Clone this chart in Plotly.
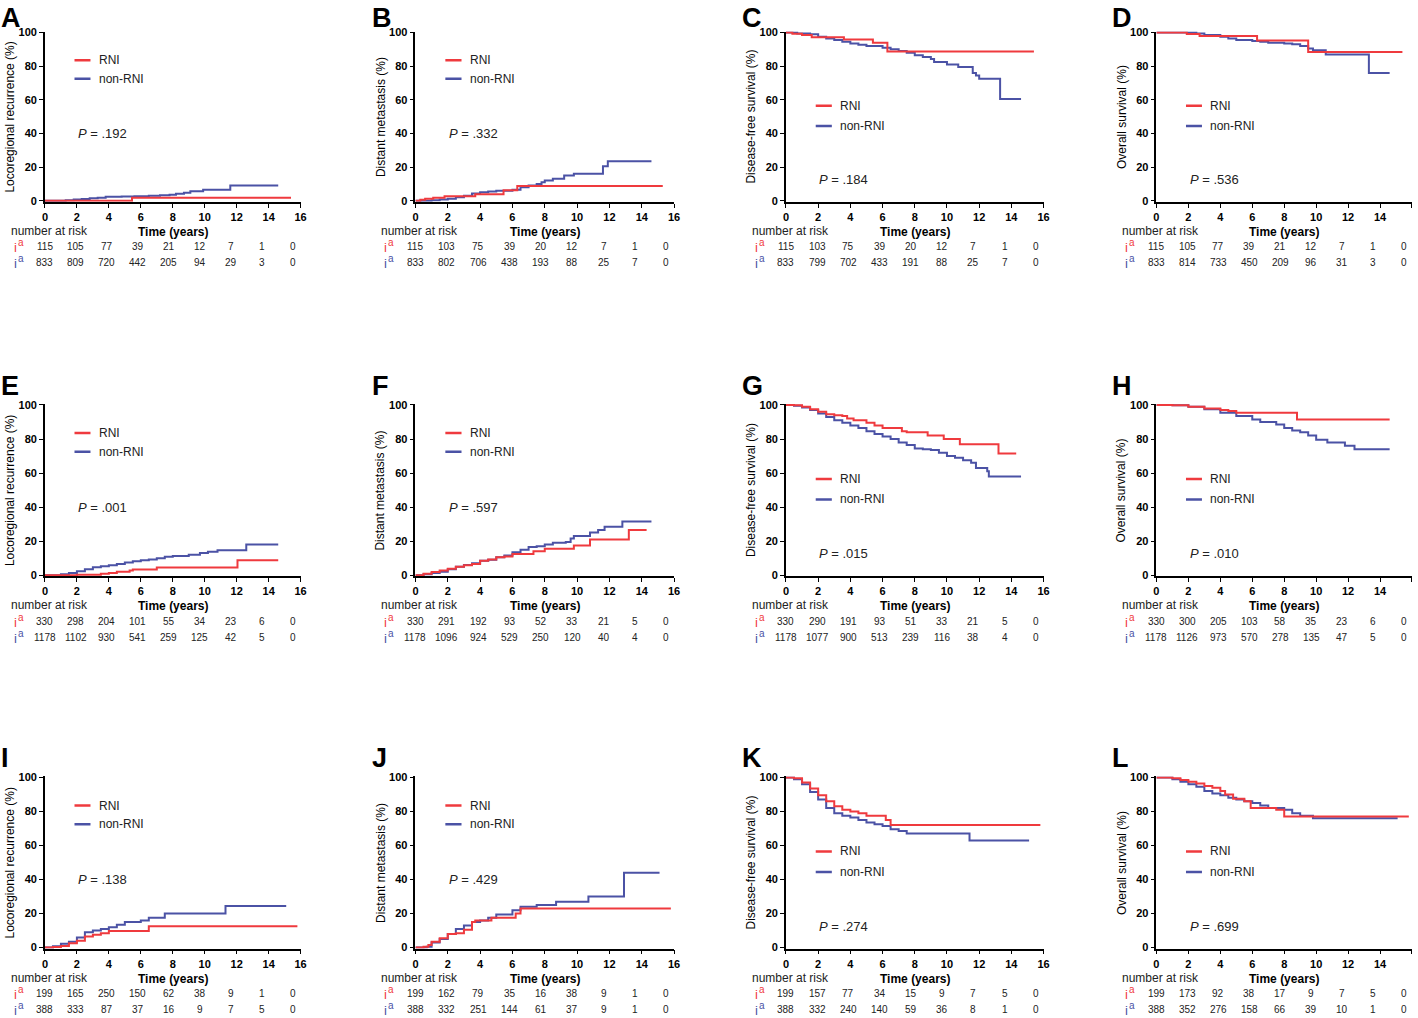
import plotly.graph_objects as go

W, H = 1418, 1018
RED = "#ef3a3e"
BLUE = "#4b52a5"
FONT = "Arial, Liberation Sans, sans-serif"

# ---- curves (time in years, percent) ----
a_rni_t = [0, 5.45, 15.4]
a_rni_v = [0, 1.8, 1.8]
a_non_t = [0, 1.3, 1.8, 2.3, 2.8, 3.3, 3.8, 4.8, 5.6, 6.5, 7.2, 7.8, 8.2, 8.7, 9.1, 9.9, 11.6, 14.6]
a_non_v = [0, 0.3, 0.7, 1.0, 1.4, 1.8, 2.3, 2.5, 2.7, 2.9, 3.2, 3.6, 4.2, 4.8, 5.6, 6.5, 9.0, 9.0]

b_rni_t = [0, 0.3, 0.6, 1.1, 1.8, 3.7, 5.45, 6.3, 15.3]
b_rni_v = [0, 0.6, 1.2, 1.8, 2.6, 3.8, 6.3, 8.8, 8.8]
b_non_t = [0, 1.0, 1.5, 2.0, 2.5, 3.0, 3.5, 4.0, 4.5, 5.0, 6.0, 6.5, 7.0, 7.5, 7.8, 8.0, 8.5, 9.2, 9.8, 11.6, 11.9, 14.6]
b_non_v = [0, 0.3, 0.7, 1.2, 2.0, 3.0, 4.3, 5.0, 5.5, 6.0, 6.5, 8.0, 9.0, 10.0, 11.0, 12.0, 13.0, 15.0, 16.0, 20.5, 23.5, 23.5]

c_rni_t = [0, 0.4, 1.0, 1.6, 3.6, 5.4, 6.3, 15.4]
c_rni_v = [100, 99.3, 98.5, 97.2, 95.8, 94.0, 88.7, 88.7]
c_non_t = [0, 0.7, 1.5, 2.0, 2.5, 3.0, 3.5, 4.0, 4.5, 5.0, 6.0, 6.5, 7.0, 7.5, 8.0, 8.5, 9.0, 9.2, 10.0, 10.7, 11.6, 11.8, 12.0, 13.3, 14.6]
c_non_v = [100, 99.5, 99.0, 97.5, 96.5, 95.5, 94.5, 93.5, 92.8, 92.0, 91.0, 90.0, 89.0, 88.0, 86.5, 85.5, 84.2, 82.5, 81.0, 79.5, 76.0, 74.5, 72.5, 60.5, 60.5]

d_rni_t = [0, 1.9, 2.7, 6.3, 9.5, 15.4]
d_rni_v = [100, 99.2, 98.0, 95.2, 88.5, 88.5]
d_non_t = [0, 2.5, 3.0, 4.0, 4.5, 5.0, 6.0, 6.5, 7.0, 8.0, 8.5, 9.0, 9.5, 9.8, 10.6, 13.3, 14.6]
d_non_v = [100, 99.5, 98.5, 97.5, 96.5, 95.5, 95.0, 94.5, 94.0, 93.5, 93.0, 92.0, 90.5, 89.5, 87.0, 76.0, 76.0]

e_rni_t = [0, 2.0, 3.5, 4.0, 4.5, 5.3, 5.5, 7.0, 12.05, 14.6]
e_rni_v = [0, 0.3, 0.8, 1.2, 2.0, 2.8, 3.3, 4.5, 8.7, 8.7]
e_non_t = [0, 1.0, 1.5, 2.0, 2.5, 3.0, 3.5, 4.0, 4.5, 5.0, 5.5, 6.0, 6.5, 7.0, 7.5, 8.0, 9.0, 9.7, 10.2, 10.8, 12.6, 14.6]
e_non_v = [0, 0.5, 1.2, 2.3, 3.5, 4.7, 5.2, 5.8, 6.5, 7.5, 8.2, 8.7, 9.2, 10.0, 10.8, 11.2, 12.0, 13.0, 13.7, 14.7, 18.0, 18.0]

f_rni_t = [0, 0.5, 1.0, 1.5, 2.0, 2.5, 3.0, 3.5, 4.0, 4.5, 5.0, 5.5, 6.0, 7.3, 8.0, 9.8, 10.8, 13.2, 14.3]
f_rni_v = [0, 0.8, 1.8, 2.8, 3.8, 5.0, 5.8, 6.5, 8.5, 9.2, 10.5, 11.0, 12.5, 14.0, 15.5, 17.5, 21.0, 26.5, 26.5]
f_non_t = [0, 0.5, 1.0, 1.5, 2.0, 2.5, 3.0, 3.5, 4.0, 4.5, 5.0, 5.5, 6.0, 6.5, 7.0, 7.5, 8.0, 8.5, 9.3, 9.6, 9.8, 10.8, 11.3, 11.7, 12.8, 14.6]
f_non_v = [0, 0.5, 1.2, 2.0, 3.5, 5.0, 6.0, 7.0, 8.5, 9.0, 10.5, 11.5, 13.5, 15.0, 16.5, 17.0, 18.0, 19.0, 19.5, 21.5, 23.0, 25.0, 26.5, 28.5, 31.5, 31.5]

g_rni_t = [0, 0.5, 1.0, 1.5, 2.0, 2.5, 3.0, 3.5, 3.8, 4.2, 5.0, 5.5, 6.0, 7.2, 7.5, 8.8, 9.8, 10.8, 13.2, 14.3]
g_rni_v = [100, 99.8, 99.0, 97.5, 96.0, 94.5, 94.0, 93.5, 92.0, 91.0, 89.5, 88.0, 86.5, 84.5, 84.0, 82.0, 80.0, 77.0, 71.5, 71.5]
g_non_t = [0, 0.5, 1.0, 1.5, 2.0, 2.5, 3.0, 3.5, 4.0, 4.5, 5.0, 5.5, 6.0, 6.5, 7.0, 7.5, 8.0, 8.5, 9.0, 9.5, 10.0, 10.5, 11.0, 11.5, 11.8, 12.5, 12.6, 14.6]
g_non_v = [100, 99.5, 98.5, 97.0, 95.0, 93.0, 91.0, 89.5, 88.0, 86.5, 84.5, 83.0, 81.5, 80.0, 78.0, 76.5, 74.5, 74.0, 73.5, 72.0, 70.0, 69.0, 67.5, 66.0, 63.0, 61.0, 58.0, 58.0]

h_rni_t = [0, 1.0, 2.0, 3.0, 4.0, 4.5, 5.0, 8.8, 14.6]
h_rni_v = [100, 99.8, 99.0, 98.0, 97.0, 96.5, 95.5, 91.5, 91.5]
h_non_t = [0, 1.0, 2.0, 3.0, 4.0, 5.0, 6.0, 6.5, 7.5, 8.0, 8.5, 9.0, 9.5, 10.0, 10.7, 11.8, 12.4, 14.6]
h_non_v = [100, 99.8, 99.0, 97.5, 95.5, 93.5, 91.5, 90.0, 88.5, 86.5, 85.0, 84.0, 82.0, 79.5, 78.0, 76.0, 74.0, 74.0]

i_rni_t = [0, 0.5, 1.0, 1.5, 2.0, 2.5, 3.0, 3.5, 4.0, 6.5, 15.8]
i_rni_v = [0, 0.3, 1.0, 2.5, 4.0, 6.5, 7.5, 8.5, 9.8, 12.5, 12.5]
i_non_t = [0, 0.5, 1.0, 1.5, 2.0, 2.5, 3.0, 3.5, 4.0, 4.5, 5.0, 6.0, 6.5, 7.5, 11.3, 15.1]
i_non_v = [0, 0.8, 2.3, 3.5, 6.0, 9.0, 10.0, 11.0, 12.0, 13.5, 15.0, 16.0, 17.5, 20.0, 24.5, 24.5]

j_rni_t = [0, 0.5, 0.8, 1.0, 1.5, 2.0, 2.5, 3.0, 3.5, 3.7, 4.7, 6.2, 6.5, 15.8]
j_rni_v = [0, 0.5, 1.5, 3.5, 5.5, 8.0, 8.5, 10.5, 15.0, 16.0, 17.5, 20.0, 23.0, 23.0]
j_non_t = [0, 0.7, 1.0, 1.5, 2.0, 2.5, 3.0, 3.5, 4.0, 4.5, 5.0, 6.0, 6.5, 7.5, 8.7, 10.7, 12.9, 15.1]
j_non_v = [0, 0.5, 3.0, 5.0, 8.0, 11.0, 13.0, 15.0, 16.0, 17.5, 19.5, 22.0, 24.0, 25.0, 27.0, 30.0, 44.0, 44.0]

k_rni_t = [0, 0.5, 1.0, 1.5, 2.0, 2.5, 3.0, 3.5, 4.0, 4.5, 5.0, 6.2, 6.5, 15.8]
k_rni_v = [100, 99.5, 97.0, 93.5, 89.5, 86.0, 83.0, 81.0, 80.0, 79.0, 77.5, 75.0, 72.0, 72.0]
k_non_t = [0, 0.5, 1.0, 1.5, 2.0, 2.5, 3.0, 3.5, 4.0, 4.5, 5.0, 5.5, 6.0, 6.5, 7.0, 7.5, 11.4, 15.1]
k_non_v = [100, 99.0, 96.0, 91.5, 87.0, 82.0, 79.0, 77.5, 76.5, 75.0, 73.5, 72.5, 71.5, 69.5, 68.5, 67.0, 63.0, 63.0]

l_rni_t = [0, 1.0, 1.5, 2.0, 2.5, 3.0, 3.5, 4.0, 4.3, 4.8, 5.5, 5.9, 7.5, 8.0, 15.8]
l_rni_v = [100, 99.5, 98.5, 97.5, 96.5, 95.0, 94.0, 92.0, 90.0, 87.5, 86.0, 82.0, 81.0, 77.0, 77.0]
l_non_t = [0, 1.0, 1.5, 2.0, 2.5, 3.0, 3.5, 4.0, 4.5, 5.0, 5.5, 6.0, 6.5, 7.0, 8.0, 8.5, 9.0, 9.8, 15.1]
l_non_v = [100, 99.0, 97.5, 96.0, 94.5, 92.0, 90.5, 89.5, 88.0, 87.0, 86.0, 85.0, 83.5, 82.0, 81.0, 79.0, 77.5, 76.0, 76.0]

# ---- number at risk, at 0, 2, ..., 16 years ----
risk_times = [0, 2, 4, 6, 8, 10, 12, 14, 16]
a_risk_rni = [115, 105, 77, 39, 21, 12, 7, 1, 0]
a_risk_non = [833, 809, 720, 442, 205, 94, 29, 3, 0]
b_risk_rni = [115, 103, 75, 39, 20, 12, 7, 1, 0]
b_risk_non = [833, 802, 706, 438, 193, 88, 25, 7, 0]
c_risk_rni = [115, 103, 75, 39, 20, 12, 7, 1, 0]
c_risk_non = [833, 799, 702, 433, 191, 88, 25, 7, 0]
d_risk_rni = [115, 105, 77, 39, 21, 12, 7, 1, 0]
d_risk_non = [833, 814, 733, 450, 209, 96, 31, 3, 0]
e_risk_rni = [330, 298, 204, 101, 55, 34, 23, 6, 0]
e_risk_non = [1178, 1102, 930, 541, 259, 125, 42, 5, 0]
f_risk_rni = [330, 291, 192, 93, 52, 33, 21, 5, 0]
f_risk_non = [1178, 1096, 924, 529, 250, 120, 40, 4, 0]
g_risk_rni = [330, 290, 191, 93, 51, 33, 21, 5, 0]
g_risk_non = [1178, 1077, 900, 513, 239, 116, 38, 4, 0]
h_risk_rni = [330, 300, 205, 103, 58, 35, 23, 6, 0]
h_risk_non = [1178, 1126, 973, 570, 278, 135, 47, 5, 0]
i_risk_rni = [199, 165, 250, 150, 62, 38, 9, 1, 0]
i_risk_non = [388, 333, 87, 37, 16, 9, 7, 5, 0]
j_risk_rni = [199, 162, 79, 35, 16, 38, 9, 1, 0]
j_risk_non = [388, 332, 251, 144, 61, 37, 9, 1, 0]
k_risk_rni = [199, 157, 77, 34, 15, 9, 7, 5, 0]
k_risk_non = [388, 332, 240, 140, 59, 36, 8, 1, 0]
l_risk_rni = [199, 173, 92, 38, 17, 9, 7, 5, 0]
l_risk_non = [388, 352, 276, 158, 66, 39, 10, 1, 0]

letters = list("ABCDEFGHIJKL")
p_values = [".192", ".332", ".184", ".536", ".001", ".597", ".015", ".010",
            ".138", ".429", ".274", ".699"]
y_titles = ["Locoregional recurrence (%)", "Distant metastasis (%)",
            "Disease-free survival (%)", "Overall survival (%)"]

panels = [
    (a_rni_t, a_rni_v, a_non_t, a_non_v, a_risk_rni, a_risk_non),
    (b_rni_t, b_rni_v, b_non_t, b_non_v, b_risk_rni, b_risk_non),
    (c_rni_t, c_rni_v, c_non_t, c_non_v, c_risk_rni, c_risk_non),
    (d_rni_t, d_rni_v, d_non_t, d_non_v, d_risk_rni, d_risk_non),
    (e_rni_t, e_rni_v, e_non_t, e_non_v, e_risk_rni, e_risk_non),
    (f_rni_t, f_rni_v, f_non_t, f_non_v, f_risk_rni, f_risk_non),
    (g_rni_t, g_rni_v, g_non_t, g_non_v, g_risk_rni, g_risk_non),
    (h_rni_t, h_rni_v, h_non_t, h_non_v, h_risk_rni, h_risk_non),
    (i_rni_t, i_rni_v, i_non_t, i_non_v, i_risk_rni, i_risk_non),
    (j_rni_t, j_rni_v, j_non_t, j_non_v, j_risk_rni, j_risk_non),
    (k_rni_t, k_rni_v, k_non_t, k_non_v, k_risk_rni, k_risk_non),
    (l_rni_t, l_rni_v, l_non_t, l_non_v, l_risk_rni, l_risk_non),
]

# target pixel boxes of the plot areas (as seen in the picture)
col_px = [(42, 298), (413, 672), (784, 1042), (1155, 1412)]
row_px = [(33, 203), (405, 577), (777, 949)]
# the risk table columns sit a little tighter than the axis ticks
risk_squeeze = 0.97


# the photographed page comes out slightly squeezed; undo it
def px(t):
    return min(t / 0.995, W) / W


def py(t):
    return min(1 - (t - 6.5) / 0.989 / H, 1)


fig = go.Figure()
annotations = []
shapes = []


def ann(**kw):
    base = dict(showarrow=False, font=dict(family=FONT, size=11, color="#222"))
    base.update(kw)
    annotations.append(base)


for i, (rt, rv, nt, nv, rr, rn) in enumerate(panels):
    row, col = divmod(i, 4)
    n = "" if i == 0 else str(i + 1)
    xa, ya = "x" + n, "y" + n
    x0, x1 = col_px[col]
    y0, y1 = row_px[row]

    fig.add_trace(go.Scatter(x=nt, y=nv, xaxis=xa, yaxis=ya, mode="lines",
                             line=dict(color=BLUE, width=2, shape="hv"),
                             showlegend=False, hoverinfo="skip"))
    fig.add_trace(go.Scatter(x=rt, y=rv, xaxis=xa, yaxis=ya, mode="lines",
                             line=dict(color=RED, width=2, shape="hv"),
                             showlegend=False, hoverinfo="skip"))

    axis_common = dict(showline=True, linecolor="black", linewidth=1.6,
                       ticks="outside", ticklen=4, tickwidth=1.4, tickcolor="black",
                       showgrid=False, zeroline=False,
                       tickfont=dict(family=FONT, size=11, color="black", weight="bold"))
    fig.layout["xaxis" + n] = dict(domain=[px(x0), px(x1)], anchor=ya,
                                   range=[0, 16], tickvals=list(range(0, 17, 2)),
                                   **axis_common)
    fig.layout["yaxis" + n] = dict(domain=[py(y1), py(y0)], anchor=xa,
                                   range=[-0.6, 100.6], tickvals=list(range(0, 101, 20)),
                                   **axis_common)

    # panel letter (tight box so it can sit right at the top edge) and y title
    ann(text="<b>%s</b>" % letters[i], xref="paper", yref="paper",
        x=px(x0 - 45), y=py(y0 - 31), xanchor="left", yanchor="top",
        height=24, valign="middle", borderpad=0,
        font=dict(family=FONT, size=27, color="black"))
    ann(text=y_titles[col], xref="paper", yref="paper", textangle=-90,
        x=px(x0 - 35), y=py((y0 + y1) / 2), xanchor="center", yanchor="middle",
        font=dict(family=FONT, size=12, color="black"))

    # legend and p value
    survival = col >= 2
    leg_y = [56.5, 44.5] if survival else [83.5, 72.5]
    p_y = 12.5 if survival else 40
    for name, color, ly in (("RNI", RED, leg_y[0]), ("non-RNI", BLUE, leg_y[1])):
        shapes.append(dict(type="line", xref=xa, yref=ya, x0=1.85, x1=2.85, y0=ly, y1=ly,
                           line=dict(color=color, width=2.5)))
        ann(text=name, xref=xa, yref=ya, x=3.25, y=ly, xanchor="left", yanchor="middle",
            font=dict(family=FONT, size=12, color="#222"))
    ann(text="<i>P</i> = %s" % p_values[i], xref=xa, yref=ya, x=1.95, y=p_y,
        xanchor="left", yanchor="middle", font=dict(family=FONT, size=13, color="#222"))

    # x title and risk table
    ann(text="<b>Time (years)</b>", xref=xa, yref="paper", x=8, y=py(y1 + 30),
        xanchor="center", yanchor="middle", font=dict(family=FONT, size=12, color="black"))
    ann(text="number at risk", xref="paper", yref="paper", x=px(x0 - 36),
        y=py(y1 + 29), xanchor="left", yanchor="middle",
        font=dict(family=FONT, size=12, color="#222"))
    for counts, color, dy in ((rr, RED, 45), (rn, BLUE, 61)):
        ann(text="i", xref="paper", yref="paper", x=px(x0 - 33),
            y=py(y1 + dy + 1), xanchor="left", yanchor="middle",
            font=dict(family=FONT, size=13, color=color))
        ann(text="a", xref="paper", yref="paper", x=px(x0 - 29),
            y=py(y1 + dy - 4), xanchor="left", yanchor="middle",
            font=dict(family=FONT, size=10, color=color))
        for t, c in zip(risk_times, counts):
            ann(text=str(c), xref=xa, yref="paper", x=t * risk_squeeze, y=py(y1 + dy),
                xanchor="center", yanchor="middle",
                font=dict(family=FONT, size=10, color="#222"))

fig.update_layout(width=W, height=H, margin=dict(l=0, r=0, t=0, b=0),
                  paper_bgcolor="white", plot_bgcolor="white",
                  annotations=annotations, shapes=shapes, showlegend=False)

fig.write_html("out.html", config={"displayModeBar": False},
               post_script="document.body.style.margin='0';"
                           "document.body.style.overflow='hidden';")
